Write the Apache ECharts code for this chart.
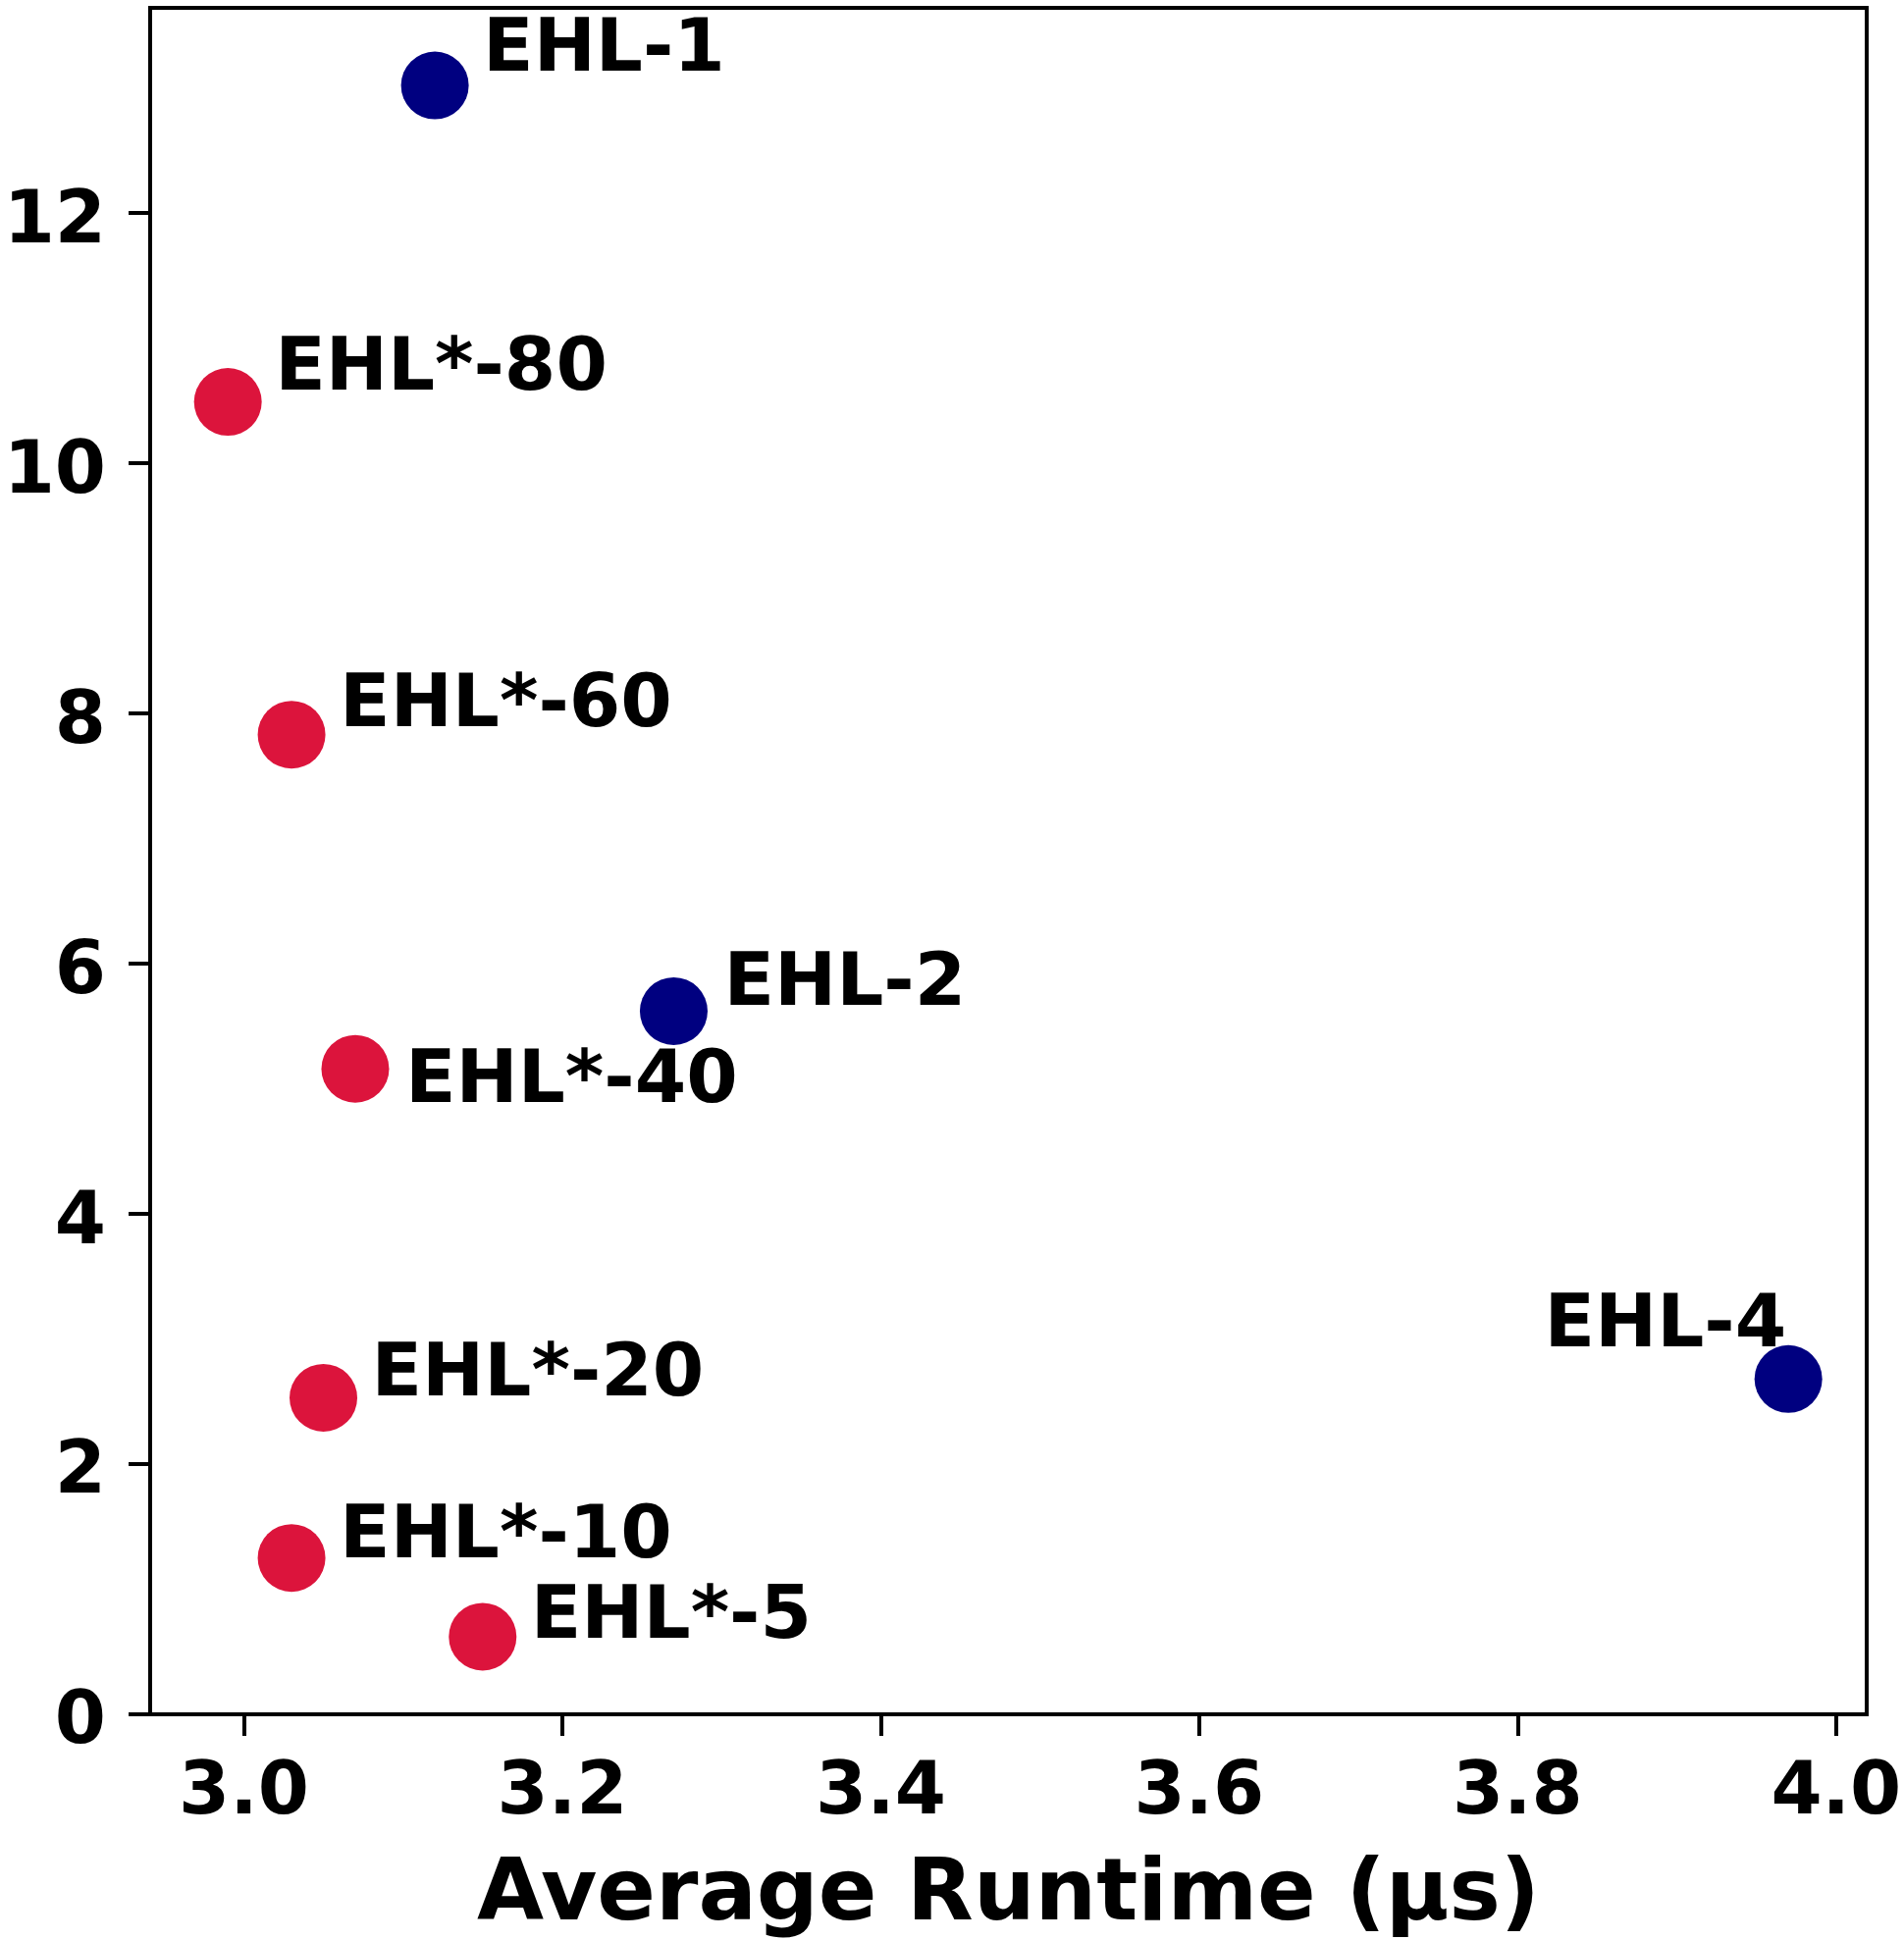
<!DOCTYPE html>
<html>
<head>
<meta charset="utf-8">
<script src="https://cdn.jsdelivr.net/npm/echarts@6/dist/echarts.min.js"></script>
<style>
html,body{margin:0;padding:0;background:#fff;}
#chart{width:1940px;height:1977px;}
</style>
</head>
<body>
<div id="chart"></div>
<script>
// ---- data ----
const names   = ['EHL-1', 'EHL-2', 'EHL-4', 'EHL*-80', 'EHL*-60', 'EHL*-40', 'EHL*-20', 'EHL*-10', 'EHL*-5'];
const runtime = [3.12, 3.27, 3.97, 2.99, 3.03, 3.07, 3.05, 3.03, 3.15];
const yValues = [13.02, 5.62, 2.68, 10.49, 7.83, 5.16, 2.53, 1.25, 0.62];
const groups  = ['EHL', 'EHL', 'EHL', 'EHL*', 'EHL*', 'EHL*', 'EHL*', 'EHL*', 'EHL*'];
const xTicks  = [3.0, 3.2, 3.4, 3.6, 3.8, 4.0];
const yTicks  = [0, 2, 4, 6, 8, 10, 12];
const xTitle  = 'Average Runtime (μs)';

// ---- styles / layout ----
const colors = { 'EHL': '#000080', 'EHL*': '#DC143C' };
const FONT = 'DejaVu Sans';
const labelPlacement = {
  'EHL-1':   { align: 'left',  offset: [49, -35] },
  'EHL-2':   { align: 'left',  offset: [51, -26] },
  'EHL-4':   { align: 'right', offset: [-2, -53] },
  'EHL*-80': { align: 'left',  offset: [48, -32] },
  'EHL*-60': { align: 'left',  offset: [49, -28] },
  'EHL*-40': { align: 'left',  offset: [51, 14] },
  'EHL*-20': { align: 'left',  offset: [49, -22] },
  'EHL*-10': { align: 'left',  offset: [49, -20] },
  'EHL*-5':  { align: 'left',  offset: [49, -19] }
};

function seriesFor(group) {
  const data = [];
  names.forEach((n, i) => {
    if (groups[i] !== group) return;
    const p = labelPlacement[n];
    data.push({
      name: n,
      value: [runtime[i], yValues[i]],
      label: { align: p.align, offset: p.offset }
    });
  });
  return {
    type: 'scatter',
    name: group,
    data: data,
    symbol: 'circle',
    symbolSize: 69,
    itemStyle: { color: colors[group], opacity: 1 },
    label: {
      show: true,
      position: 'inside',
      verticalAlign: 'middle',
      formatter: p => p.name,
      color: '#000',
      fontFamily: FONT,
      fontWeight: 'bold',
      fontSize: 75.5,
      lineHeight: 76
    },
    emphasis: { disabled: true },
    z: 3
  };
}

const yMin = 0, yMax = 13.64;
const xMin = 2.9412, xMax = 4.0192;

const chart = echarts.init(document.getElementById('chart'), null, { renderer: 'canvas' });
chart.setOption({
  animation: false,
  backgroundColor: '#fff',
  grid: {
    left: 153, right: 38, top: 8, bottom: 230,
    show: true, borderColor: '#000', borderWidth: 4, backgroundColor: 'transparent',
    containLabel: false,
    outerBoundsMode: 'none'
  },
  xAxis: {
    type: 'value',
    min: xMin, max: xMax,
    splitLine: { show: false },
    axisLine: { show: true, onZero: false, lineStyle: { color: '#000', width: 4 } },
    axisTick: { show: true, inside: false, length: 22, lineStyle: { color: '#000', width: 4 }, customValues: xTicks },
    axisLabel: {
      customValues: xTicks,
      formatter: v => Number(v).toFixed(1),
      color: '#000', fontFamily: FONT, fontWeight: 'bold', fontSize: 75, margin: 44
    },
    name: xTitle,
    nameLocation: 'middle',
    nameGap: 142,
    nameTextStyle: { color: '#000', fontFamily: FONT, fontWeight: 'bold', fontSize: 88 }
  },
  yAxis: {
    type: 'value',
    min: yMin, max: yMax,
    splitLine: { show: false },
    axisLine: { show: true, onZero: false, lineStyle: { color: '#000', width: 4 } },
    axisTick: { show: true, inside: false, length: 22, lineStyle: { color: '#000', width: 4 }, customValues: yTicks },
    axisLabel: {
      customValues: yTicks,
      formatter: v => String(Math.round(v)),
      color: '#000', fontFamily: FONT, fontWeight: 'bold', fontSize: 75, margin: 45,
      verticalAlign: 'top', lineHeight: 20
    }
  },
  series: [seriesFor('EHL'), seriesFor('EHL*')]
});
</script>
</body>
</html>
